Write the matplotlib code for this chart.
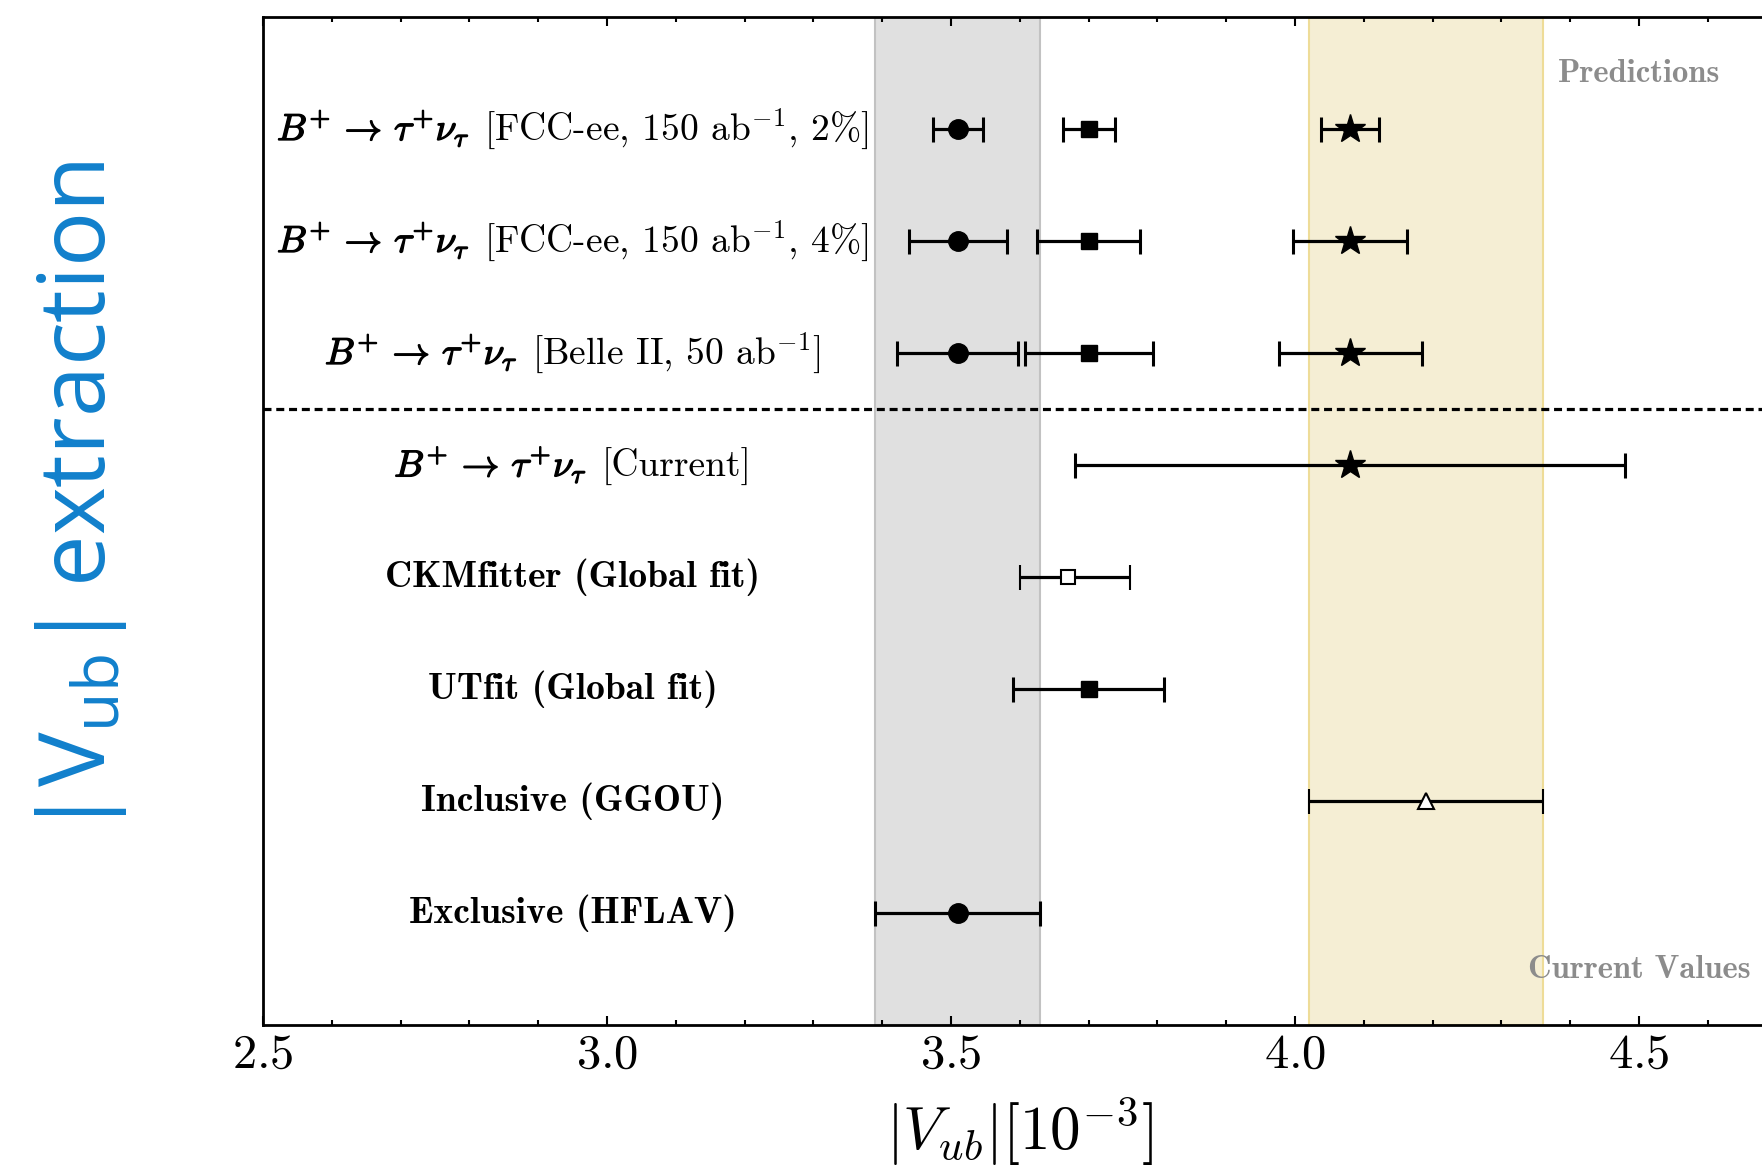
import matplotlib.pyplot as plt
import matplotlib.patheffects as pe
from matplotlib.offsetbox import TextArea, HPacker, AnnotationBbox

plt.rcParams['font.family'] = 'cmr10'
plt.rcParams['mathtext.fontset'] = 'cm'
plt.rcParams['axes.formatter.use_mathtext'] = True

# |Vub| in units of 1e-3
# prediction rows (top to bottom): FCC-ee 2%, FCC-ee 4%, Belle II
pred_tags = ["[FCC-ee, 150 ab$^{-1}$, 2%]", "[FCC-ee, 150 ab$^{-1}$, 4%]", "[Belle II, 50 ab$^{-1}$]"]
pred_y = [7, 6, 5]
circ_x = [3.51, 3.51, 3.51]
circ_err = [0.036, 0.071, 0.088]
sq_x = [3.70, 3.70, 3.70]
sq_err = [0.038, 0.075, 0.093]
star_x = [4.08, 4.08, 4.08]
star_err = [0.042, 0.083, 0.104]

# current values
cur_y = 4
cur_x = 4.08
cur_err = 0.40
ckm_y = 3
ckm_x = 3.67
ckm_lo, ckm_hi = 0.07, 0.09
utfit_y = 2
utfit_x = 3.70
utfit_err = 0.11
ggou_y = 1
ggou_x = 4.19
ggou_err = 0.17
excl_y = 0
excl_x = 3.51
excl_err = 0.12

plain_labels = ["CKMfitter (Global fit)", "UTfit (Global fit)", "Inclusive (GGOU)", "Exclusive (HFLAV)"]
plain_y = [3, 2, 1, 0]

fig = plt.figure(figsize=(17.62, 11.66), dpi=100)
ax = fig.add_axes([0.1493, 0.1209, 0.859, 0.8645])
ax.set_xlim(2.5, 4.7)
ax.set_ylim(-1, 8)

# bands from exclusive and inclusive determinations
ax.axvspan(excl_x - excl_err, excl_x + excl_err, facecolor='#e0e0e0', edgecolor='#c2c2c2', lw=1.5, zorder=0)
ax.axvspan(ggou_x - ggou_err, ggou_x + ggou_err, facecolor='#f5eed4', edgecolor='#eedc98', lw=1.5, zorder=0)

ax.axhline(4.5, color='black', lw=2.3, ls=(0, (2.5, 1.5)), zorder=1)

eb = dict(ecolor='black', elinewidth=2.3, capsize=9, capthick=2.2, ls='none', zorder=3)
ax.errorbar(circ_x, pred_y, xerr=circ_err, fmt='o', ms=14, mfc='k', mec='k', **eb)
ax.errorbar(sq_x, pred_y, xerr=sq_err, fmt='s', ms=11, mfc='k', mec='k', **eb)
ax.errorbar(star_x, pred_y, xerr=star_err, fmt='*', ms=22, mfc='k', mec='k', **eb)

ax.errorbar([cur_x], [cur_y], xerr=cur_err, fmt='*', ms=22, mfc='k', mec='k', **eb)
ax.errorbar([ckm_x], [ckm_y], xerr=[[ckm_lo], [ckm_hi]], fmt='s', ms=10, mfc='white', mec='k', mew=1.5, **eb)
ax.errorbar([utfit_x], [utfit_y], xerr=utfit_err, fmt='s', ms=11, mfc='k', mec='k', **eb)
ax.errorbar([ggou_x], [ggou_y], xerr=ggou_err, fmt='^', ms=12, mfc='white', mec='k', mew=1.5, **eb)
ax.errorbar([excl_x], [excl_y], xerr=excl_err, fmt='o', ms=14, mfc='k', mec='k', **eb)

# row labels: bold math decay + plain bracket tag
bold = [pe.withStroke(linewidth=1.0, foreground='black')]
decay = r"$B^{+}\,\to\,\tau^{+}\nu_{\tau}$"
for tag, y in zip(pred_tags + ["[Current]"], pred_y + [cur_y]):
    box = HPacker(children=[TextArea(decay, textprops=dict(fontsize=27, path_effects=bold)),
                            TextArea(tag, textprops=dict(fontsize=27))],
                  align='baseline', pad=0, sep=10)
    ab = AnnotationBbox(box, (2.95, y), xycoords='data', frameon=False, pad=0,
                        box_alignment=(0.5, 0.5))
    ax.add_artist(ab)

for lab, y in zip(plain_labels, plain_y):
    ax.text(2.95, y, lab, family='cmb10', fontsize=27, ha='center', va='center')

ax.text(4.5, 7.5, "Predictions", family='cmb10', fontsize=23.5, color='#8c8c8c', ha='center', va='center')
ax.text(4.5, -0.5, "Current Values", family='cmb10', fontsize=23.5, color='#8c8c8c', ha='center', va='center')

ax.set_yticks([])
ax.set_xticks([2.5, 3.0, 3.5, 4.0, 4.5])
ax.set_xticks([2.6, 2.7, 2.8, 2.9, 3.1, 3.2, 3.3, 3.4, 3.6, 3.7, 3.8, 3.9, 4.1, 4.2, 4.3, 4.4, 4.6], minor=True)
ax.tick_params(axis='x', which='both', direction='in', top=True, bottom=True, labelsize=35, width=1.5, pad=6)
ax.tick_params(axis='x', which='major', length=6.5)
ax.tick_params(axis='x', which='minor', length=3.5)
for s in ax.spines.values():
    s.set_linewidth(2.0)

ax.set_xlabel(r"$|V_{ub}|[10^{-3}]$", fontsize=44)
ax.xaxis.set_label_coords(0.5, -0.106)
ax.xaxis.label.set_va('center')

fig.text(0.046, 0.572, r"$\mathregular{|V_{ub}|\,extraction}$", family='Open Sans', fontsize=66,
         color='#1180cc', rotation=90, ha='center', va='center')

fig.savefig('out.png', dpi=100)
